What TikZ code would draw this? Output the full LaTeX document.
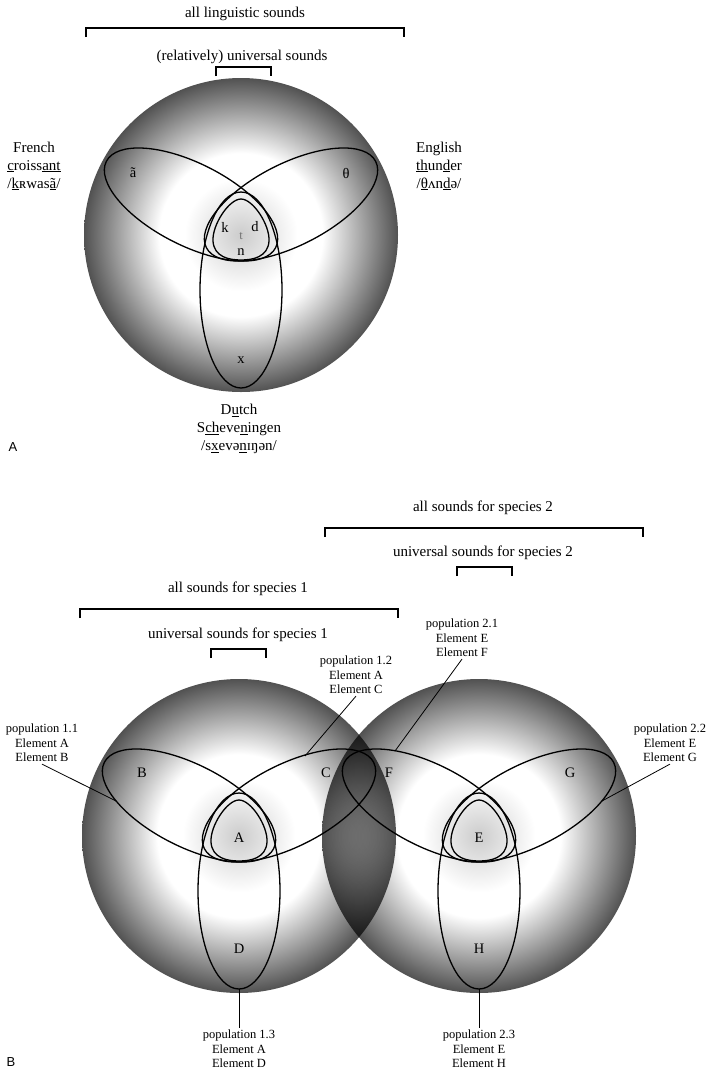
\documentclass[tikz,border=0pt]{standalone}
\usepackage{fontspec}
\setmainfont{Liberation Serif}
\newfontfamily\panelfont{Liberation Sans}
\pgfdeclareradialshading{sphere}{\pgfpointorigin}{color(0bp)=(black!20); color(9bp)=(white); color(13bp)=(white); color(25bp)=(black!68); color(50bp)=(black!68)}
\tikzset{
  bracket/.style={line width=2pt},
  petal/.style={line width=1.3pt},
  leader/.style={line width=0.8pt},
  big/.style={font=\fontsize{15}{18}\selectfont, inner sep=0pt, align=center},
  elem/.style={font=\fontsize{14.5}{17}\selectfont, inner sep=0pt},
  small/.style={font=\fontsize{12.5}{14.5}\selectfont, inner sep=2pt, align=center},
  panel/.style={font=\panelfont\fontsize{13}{15}\selectfont, inner sep=0pt}
}
\begin{document}
\begin{tikzpicture}[x=1pt,y=-1pt]
\useasboundingbox (0,0) rectangle (717,1072);

% spheres
\shade[shading=sphere] (241,235) circle[radius=157];
\shade[shading=sphere] (239,836) circle[radius=157];
\shade[shading=sphere, blend mode=multiply] (479,836) circle[radius=157];

% petals and the shared core
\foreach \cx/\cy in {241/235, 239/836, 479/836} {
  \begin{scope}[shift={(\cx,\cy)}, petal]
    \draw[rotate around={-27:(-50,-30.5)}] (-50,-30.5) ellipse[x radius=95, y radius=41];
    \draw[rotate around={27:(50,-30.5)}] (50,-30.5) ellipse[x radius=95, y radius=41];
    \draw (0,55) ellipse[x radius=41, y radius=98];
    \draw (0,-36) .. controls (12,-36) and (29,-10) .. (28,6) .. controls (27,22) and (12,25) .. (0,25)
          .. controls (-12,25) and (-27,22) .. (-28,6) .. controls (-29,-10) and (-12,-36) .. (0,-36) -- cycle;
  \end{scope}
}

% panel A
\node[big] (allling) at (245,14) {all linguistic sounds};
\coordinate (allL) at (86,37);
\coordinate (allR) at (404,37);
\draw[bracket] (allL) -- ++(0,-9) -| (allR);
\node[big] (univ) at (242,57) {(relatively) universal sounds};
\coordinate (univL) at (216,76);
\coordinate (univR) at (271,76);
\draw[bracket] (univL) -- ++(0,-9) -| (univR);

\node[big] (french) at (34,166) {French\\\underline{c}roiss\underline{ant}\\/\underline{k}ʀwas\underline{ã}/};
\node[big] (english) at (439,166) {English\\\underline{th}un\underline{d}er\\/\underline{θ}ʌn\underline{d}ə/};
\node[big] (dutch) at (239,429) {D\underline{u}tch\\S\underline{ch}eve\underline{n}ingen\\/s\underline{x}evə\underline{n}ɪŋən/};

\node[elem] (nasal) at (133,173) {ã};
\node[elem] (theta) at (346,173) {θ};
\node[elem] (velk) at (225,227) {k};
\node[elem] (dentd) at (255,227) {d};
\node[elem, font=\fontsize{12.5}{14}\selectfont, text=black!55] (dentt) at (241,236) {t};
\node[elem] (nasn) at (241,252) {n};
\node[elem] (velx) at (241,360) {x};
\node[panel] (panelA) at (13,447) {A};

% panel B
\node[big] (all2) at (483,508) {all sounds for species 2};
\coordinate (all2L) at (325,537);
\coordinate (all2R) at (643,537);
\draw[bracket] (all2L) -- ++(0,-9) -| (all2R);
\node[big] (univ2) at (483,553) {universal sounds for species 2};
\coordinate (univ2L) at (457,576);
\coordinate (univ2R) at (512,576);
\draw[bracket] (univ2L) -- ++(0,-9) -| (univ2R);
\node[big] (all1) at (238,589) {all sounds for species 1};
\coordinate (all1L) at (80,618);
\coordinate (all1R) at (398,618);
\draw[bracket] (all1L) -- ++(0,-9) -| (all1R);
\node[big] (univ1) at (238,635) {universal sounds for species 1};
\coordinate (univ1L) at (211,658);
\coordinate (univ1R) at (266,658);
\draw[bracket] (univ1L) -- ++(0,-9) -| (univ1R);

\node[elem] (elA) at (239,838) {A};
\node[elem] (elB) at (142,773) {B};
\node[elem] (elC) at (326,773) {C};
\node[elem] (elD) at (239,949) {D};
\node[elem] (elE) at (479,838) {E};
\node[elem] (elF) at (389,773) {F};
\node[elem] (elG) at (570,773) {G};
\node[elem] (elH) at (479,949) {H};

\node[small] (pop11) at (42,743) {population 1.1\\Element A\\Element B};
\node[small] (pop12) at (356,675) {population 1.2\\Element A\\Element C};
\node[small] (pop21) at (462,638) {population 2.1\\Element E\\Element F};
\node[small] (pop22) at (670,743) {population 2.2\\Element E\\Element G};
\node[small] (pop13) at (239,1049) {population 1.3\\Element A\\Element D};
\node[small] (pop23) at (479,1049) {population 2.3\\Element E\\Element H};

\coordinate (edge11) at (116,801);
\coordinate (edge12) at (305,756);
\coordinate (edge21) at (395,751);
\coordinate (edge22) at (602,801);
\coordinate (tip13) at (239,989);
\coordinate (tip23) at (479,989);
\draw[leader] (pop11.south) -- (edge11);
\draw[leader] (pop12.south) -- (edge12);
\draw[leader] (pop21.south) -- (edge21);
\draw[leader] (pop22.south) -- (edge22);
\draw[leader] (tip13) -- (pop13.north);
\draw[leader] (tip23) -- (pop23.north);
\node[panel] (panelB) at (11,1062) {B};
\end{tikzpicture}
\end{document}
